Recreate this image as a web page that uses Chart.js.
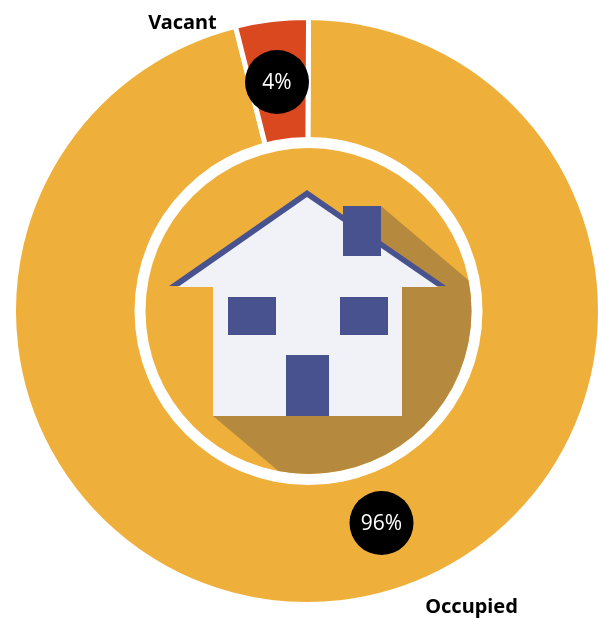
<!DOCTYPE html>
<html>
<head>
<meta charset="utf-8">
<title>Occupied and vacant homes</title>
<script src="https://cdn.jsdelivr.net/npm/chart.js@4"></script>
<style>
  html, body { margin: 0; padding: 0; background: #fff; overflow: hidden; }
  /* ring touches the right edge of the page; its white border sits just past it */
  #wrap { position: relative; width: 603px; height: 618px; }
</style>
</head>
<body>
<div id="wrap"><canvas id="chart"></canvas></div>
<script>
// ── Data ──────────────────────────────────────────────────────
const categories = ['Occupied', 'Vacant'];
const shares = [96, 4];

// ── Colours ───────────────────────────────────────────────────
const ORANGE = '#efb03b';
const RED = '#d9481f';
const NAVY = '#47528f';
const WALL = '#f1f2f7';
const SHADOW = '#b68a3e';

// badge and label spots, as offsets from the doughnut centre
const badgeSpots = [[74.5, 212], [-30, -229]];
const labelSpots = [[164, 296], [-125, -288]];

function poly(ctx, pts, fill) {
  ctx.beginPath();
  pts.forEach((p, i) => i ? ctx.lineTo(p[0], p[1]) : ctx.moveTo(p[0], p[1]));
  ctx.closePath();
  ctx.fillStyle = fill;
  ctx.fill();
}

function drawHouse(ctx) {
  // long shadow, kept inside the inner disc
  ctx.save();
  ctx.beginPath();
  ctx.arc(1.5, 0, 163, 0, Math.PI * 2);
  ctx.clip();
  poly(ctx, [[74, -105], [180, -15], [180, 184], [0, 184], [-94, 105], [60, -40]], SHADOW);
  ctx.restore();

  poly(ctx, [[-138, -25], [0, -121], [139, -25]], NAVY);
  poly(ctx, [[-129, -24], [0, -114], [131, -24]], WALL);
  ctx.fillStyle = WALL;
  ctx.fillRect(-94, -25, 189, 130);

  ctx.fillStyle = NAVY;
  ctx.fillRect(36, -105, 38, 50);
  ctx.fillRect(-79, -14, 48, 38);
  ctx.fillRect(33, -14, 48, 38);
  ctx.fillRect(-21, 44, 43, 61);
}

// ── Centre disc, house, badges, labels ────────────────────────
const overlay = {
  id: 'overlay',
  afterDatasetsDraw(chart) {
    const ctx = chart.ctx;
    const arc = chart.getDatasetMeta(0).data[0];
    const cx = arc.x, cy = arc.y;

    ctx.save();
    ctx.translate(cx, cy);

    ctx.beginPath();
    ctx.arc(1.5, 0, 174, 0, Math.PI * 2);
    ctx.fillStyle = '#fff';
    ctx.fill();
    ctx.beginPath();
    ctx.arc(1.5, 0, 163, 0, Math.PI * 2);
    ctx.fillStyle = ORANGE;
    ctx.fill();

    drawHouse(ctx);

    ctx.textAlign = 'center';
    ctx.textBaseline = 'middle';
    shares.forEach((v, i) => {
      const [bx, by] = badgeSpots[i];
      ctx.beginPath();
      ctx.arc(bx, by, 32, 0, Math.PI * 2);
      ctx.fillStyle = '#000';
      ctx.fill();
      ctx.fillStyle = '#fff';
      ctx.font = '21px "Open Sans", sans-serif';
      ctx.fillText(v + '%', bx, by + 1);

      const [lx, ly] = labelSpots[i];
      ctx.fillStyle = '#000';
      ctx.font = 'bold 20px "Noto Sans", sans-serif';
      ctx.fillText(categories[i], lx + 0.5, ly);
    });
    ctx.restore();
  }
};

// ── Chart ─────────────────────────────────────────────────────
new Chart(document.getElementById('chart'), {
  type: 'doughnut',
  data: {
    labels: categories,
    datasets: [{
      data: shares,
      backgroundColor: [ORANGE, RED],
      borderColor: '#fff',
      borderWidth: 5
    }]
  },
  options: {
    responsive: true,
    maintainAspectRatio: false,
    animation: false,
    rotation: 0.3,
    cutout: '57.5%',
    layout: { padding: { left: 11, right: 0, top: 15, bottom: 11 } },
    plugins: { legend: { display: false }, tooltip: { enabled: false } }
  },
  plugins: [overlay]
});
</script>
</body>
</html>
